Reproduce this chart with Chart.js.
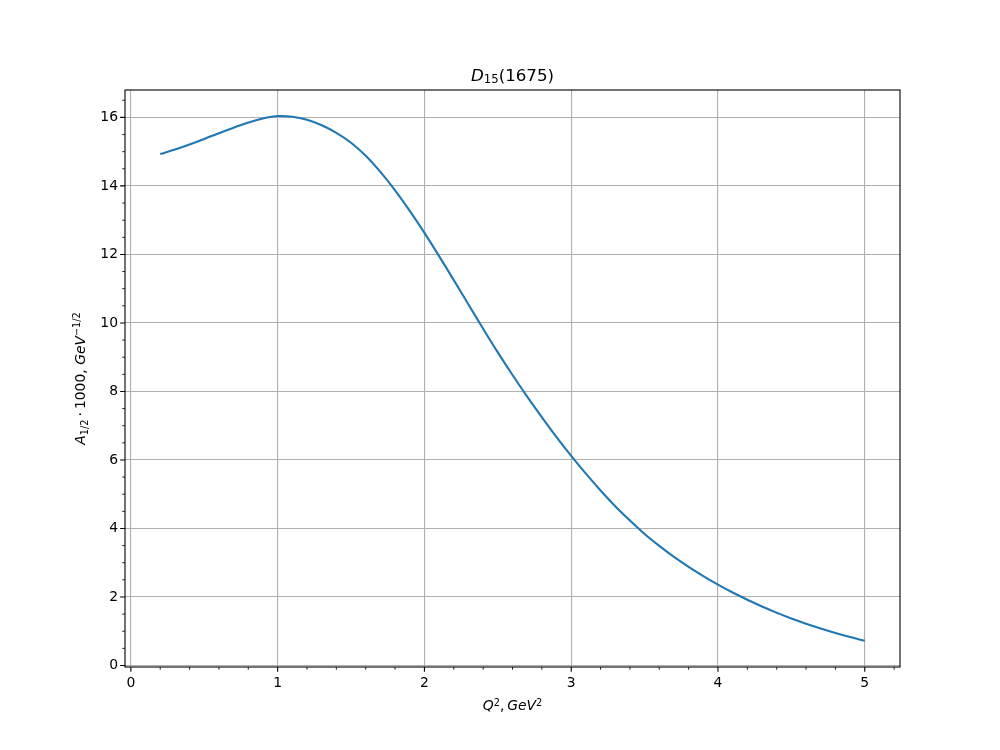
<!DOCTYPE html>
<html><head><meta charset="utf-8">
<script src="https://cdn.jsdelivr.net/npm/chart.js@4"></script>
<style>html,body{margin:0;padding:0;background:#fff}canvas{display:block}</style>
</head><body>
<canvas id="c" width="1000" height="750"></canvas>
<script>
const q2Values  = [0.2, 0.3, 0.4, 0.5, 0.6, 0.7, 0.8, 0.9, 1.0, 1.1, 1.2, 1.3, 1.4, 1.5, 1.6, 1.7, 1.8, 1.9, 2.0, 2.1, 2.2, 2.3, 2.4, 2.5, 2.6, 2.7, 2.8, 2.9, 3.0, 3.1, 3.2, 3.3, 3.4, 3.5, 3.6, 3.7, 3.8, 3.9, 4.0, 4.1, 4.2, 4.3, 4.4, 4.5, 4.6, 4.7, 4.8, 4.9, 5.0];
const a12Values = [14.93, 15.06, 15.21, 15.37, 15.54, 15.70, 15.85, 15.97, 16.04, 16.02, 15.93, 15.77, 15.55, 15.26, 14.88, 14.41, 13.87, 13.27, 12.63, 11.95, 11.25, 10.54, 9.83, 9.14, 8.48, 7.85, 7.25, 6.67, 6.12, 5.60, 5.11, 4.65, 4.23, 3.84, 3.49, 3.17, 2.88, 2.61, 2.36, 2.13, 1.92, 1.72, 1.54, 1.37, 1.22, 1.08, 0.95, 0.83, 0.72];
const xTickValues = [0, 1, 2, 3, 4, 5];
const yTickValues = [0, 2, 4, 6, 8, 10, 12, 14, 16];
const xMinorStep = 0.2;
const yMinorStep = 0.5;

const FONT = '"DejaVu Sans"';
const titleSegs = [{t:'D', i:1}, {t:'15', s:0.7, dy:0.14}, {t:'(1675)'}];
const xLabelSegs = [{t:'Q', i:1}, {t:'2', s:0.7, dy:-0.32}, {t:',', ga:0.2}, {t:'GeV', i:1}, {t:'2', s:0.7, dy:-0.32}];
const yLabelSegs = [{t:'A', i:1}, {t:'1/2', s:0.7, dy:0.2}, {t:'\u00b7', gb:0.22, ga:0.22}, {t:'1000'}, {t:','}, {t:' '}, {t:'GeV', i:1}, {t:'\u22121/2', s:0.7, dy:-0.36}];

function drawRich(ctx, segs, base, x, y, rot) {
  ctx.save();
  ctx.translate(x, y);
  if (rot) ctx.rotate(rot);
  ctx.textBaseline = 'alphabetic';
  ctx.textAlign = 'left';
  ctx.fillStyle = '#000';
  let total = 0;
  const ms = segs.map(s => {
    const size = base * (s.s || 1);
    const font = (s.i ? 'italic ' : '') + size + 'px ' + FONT;
    ctx.font = font;
    const w = ctx.measureText(s.t).width;
    const gb = (s.gb || 0) * base, ga = (s.ga || 0) * base;
    total += gb + w + ga;
    return {font, w, gb, ga, dy: (s.dy || 0) * base, t: s.t};
  });
  let cx = -total / 2;
  ms.forEach(m => {
    cx += m.gb;
    ctx.font = m.font;
    ctx.fillText(m.t, cx, m.dy);
    cx += m.w + m.ga;
  });
  ctx.restore();
}

const decor = {
  id: 'decor',
  afterDraw(chart) {
    const ctx = chart.ctx;
    const a = chart.chartArea;
    const xs = chart.scales.x, ys = chart.scales.y;
    ctx.save();
    ctx.strokeStyle = '#000';
    ctx.lineWidth = 0.83;
    ctx.beginPath();
    for (let k = 0; k * xMinorStep <= xs.max + 1e-9; k++) {
      const v = +(k * xMinorStep).toFixed(6);
      if (Math.abs(v - Math.round(v)) < 1e-6) continue;
      const p = xs.getPixelForValue(v);
      ctx.moveTo(p, a.bottom); ctx.lineTo(p, a.bottom + 2.78);
    }
    for (let k = 0; k * yMinorStep <= ys.max + 1e-9; k++) {
      const v = +(k * yMinorStep).toFixed(6);
      if (Math.abs(v / 2 - Math.round(v / 2)) < 1e-6) continue;
      const p = ys.getPixelForValue(v);
      ctx.moveTo(a.left, p); ctx.lineTo(a.left - 2.78, p);
    }
    ctx.stroke();
    ctx.lineWidth = 1.1;
    ctx.beginPath();
    xTickValues.forEach(v => { const p = xs.getPixelForValue(v); ctx.moveTo(p, a.bottom); ctx.lineTo(p, a.bottom + 4.86); });
    yTickValues.forEach(v => { const p = ys.getPixelForValue(v); ctx.moveTo(a.left, p); ctx.lineTo(a.left - 4.86, p); });
    ctx.stroke();
    ctx.strokeRect(a.left, a.top, a.right - a.left, a.bottom - a.top);
    ctx.restore();
    drawRich(ctx, titleSegs, 16.67, (a.left + a.right) / 2, 81, 0);
    drawRich(ctx, xLabelSegs, 13.9, (a.left + a.right) / 2, 710, 0);
    drawRich(ctx, yLabelSegs, 13.9, 85, (a.top + a.bottom) / 2, -Math.PI / 2);
  }
};

new Chart(document.getElementById('c'), {
  type: 'line',
  data: {
    datasets: [{
      data: q2Values.map((x, i) => ({x, y: a12Values[i]})),
      borderColor: '#1f77b4',
      borderWidth: 2.08,
      pointRadius: 0,
      fill: false,
      tension: 0.4
    }]
  },
  options: {
    responsive: false,
    animation: false,
    events: [],
    devicePixelRatio: 1,
    layout: {padding: {left: 0, top: 90, right: 100, bottom: 0}},
    plugins: {legend: {display: false}, tooltip: {enabled: false}, title: {display: false}},
    scales: {
      x: {
        type: 'linear', min: -0.04, max: 5.24,
        afterBuildTicks: s => { s.ticks = xTickValues.map(v => ({value: v})); },
        afterFit: s => { s.height = 83; },
        grid: {color: '#b0b0b0', lineWidth: 1.1, drawTicks: false},
        border: {display: false},
        ticks: {padding: 8, color: '#000', font: {family: 'DejaVu Sans', size: 13.9}, maxRotation: 0, autoSkip: false, callback: v => String(v)}
      },
      y: {
        type: 'linear', min: -0.044, max: 16.8,
        afterBuildTicks: s => { s.ticks = yTickValues.map(v => ({value: v})); },
        afterFit: s => { s.width = 125; },
        grid: {color: '#b0b0b0', lineWidth: 1.1, drawTicks: false},
        border: {display: false},
        ticks: {padding: 7, color: '#000', font: {family: 'DejaVu Sans', size: 13.9}, autoSkip: false, callback: v => String(v)}
      }
    }
  },
  plugins: [decor]
});
</script>
</body></html>
